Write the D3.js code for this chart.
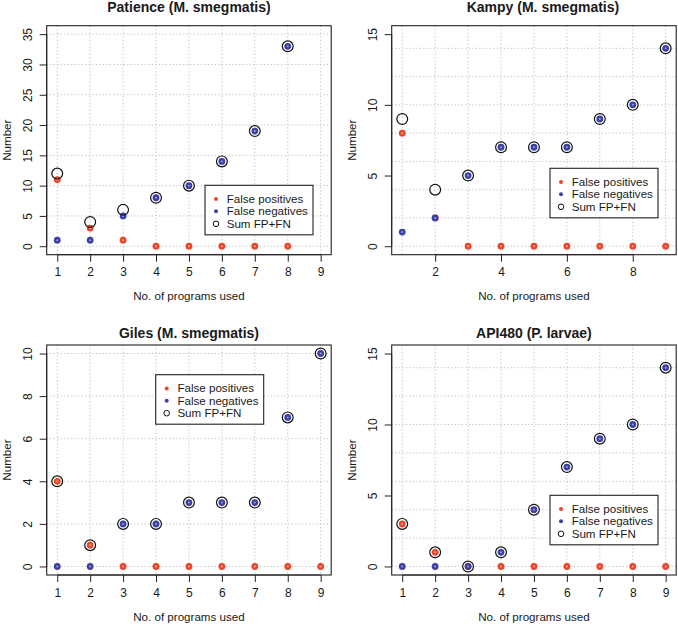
<!DOCTYPE html>
<html>
<head>
<meta charset="utf-8">
<script src="https://cdn.jsdelivr.net/npm/d3@7"></script>
<style>
  html, body { margin: 0; padding: 0; background: #fff; }
  svg { display: block; }
  text { font-family: "Liberation Sans", Arial, sans-serif; fill: #1a1a1a; }
</style>
</head>
<body>
<svg id="chart" width="678" height="627"></svg>
<script>
// ---------------- data ----------------
const programs = [1, 2, 3, 4, 5, 6, 7, 8, 9];

const patienceFP  = [11, 3, 1, 0, 0, 0, 0, 0];
const patienceFN  = [1, 1, 5, 8, 10, 14, 19, 33];
const patienceSum = [12, 4, 6, 8, 10, 14, 19, 33];

const kampyFP  = [8, 2, 0, 0, 0, 0, 0, 0, 0];
const kampyFN  = [1, 2, 5, 7, 7, 7, 9, 10, 14];
const kampySum = [9, 4, 5, 7, 7, 7, 9, 10, 14];

const gilesFP  = [4, 1, 0, 0, 0, 0, 0, 0, 0];
const gilesFN  = [0, 0, 2, 2, 3, 3, 3, 7, 10];
const gilesSum = [4, 1, 2, 2, 3, 3, 3, 7, 10];

const apiFP  = [3, 1, 0, 0, 0, 0, 0, 0, 0];
const apiFN  = [0, 0, 0, 1, 4, 7, 9, 10, 14];
const apiSum = [3, 1, 0, 1, 4, 7, 9, 10, 14];

const titles = ["Patience (M. smegmatis)", "Kampy (M. smegmatis)", "Giles (M. smegmatis)", "API480 (P. larvae)"];
const legendLabels = ["False positives", "False negatives", "Sum FP+FN"];
const xLabel = "No. of programs used";
const yLabel = "Number";

const xTicksFull = [1, 2, 3, 4, 5, 6, 7, 8, 9];
const xTicksEven = [2, 4, 6, 8];
const yTicksPatience = [0, 5, 10, 15, 20, 25, 30, 35];
const yTicksKampy = [0, 5, 10, 15];
const yTicksGiles = [0, 2, 4, 6, 8, 10];
const yTicksApi = [0, 5, 10, 15];
const yGridPatience = [0, 5, 10, 15, 20, 25, 30, 35];
const yGridKampy = [0, 2, 4, 6, 8, 10, 12, 14];
const yGridGiles = [0, 2, 4, 6, 8, 10];
const yGridApi = [0, 2, 4, 6, 8, 10, 12, 14];
const yLimPatience = [0, 35];
const yLimKampy = [0, 15];
const yLimGiles = [0, 10];
const yLimApi = [0, 15];
const xLim = [1, 9];

// ---------------- styles / layout ----------------
const RED = "#ee4528";
const BLUE = "#3b40a6";
const W = 284.5;

function ext(lim) { const d = (lim[1] - lim[0]) * 0.04; return [lim[0] - d, lim[1] + d]; }

const panels = [
  { title: titles[0], fp: patienceFP, fn: patienceFN, sum: patienceSum, yLim: yLimPatience,
    yTicks: yTicksPatience, yGrid: yGridPatience, xTicks: xTicksFull,
    left: 46.7, top: 25.7, height: 229, titleY: 7.5, titleDx: 0, legend: [205, 185.3] },
  { title: titles[1], fp: kampyFP, fn: kampyFN, sum: kampySum, yLim: yLimKampy,
    yTicks: yTicksKampy, yGrid: yGridKampy, xTicks: xTicksEven,
    left: 391.7, top: 25.7, height: 229, titleY: 7.5, titleDx: 9, legend: [550, 168.3] },
  { title: titles[2], fp: gilesFP, fn: gilesFN, sum: gilesSum, yLim: yLimGiles,
    yTicks: yTicksGiles, yGrid: yGridGiles, xTicks: xTicksFull,
    left: 46.7, top: 345, height: 230, titleY: 333, titleDx: 0, legend: [155.7, 374.7] },
  { title: titles[3], fp: apiFP, fn: apiFN, sum: apiSum, yLim: yLimApi,
    yTicks: yTicksApi, yGrid: yGridApi, xTicks: xTicksFull,
    left: 391.7, top: 345, height: 230, titleY: 333, titleDx: 0, legend: [550, 495.3] }
];

const svg = d3.select("#chart");
svg.append("rect").attr("width", 678).attr("height", 627).attr("fill", "#fff");

panels.forEach(p => {
  const x = d3.scaleLinear().domain(ext(xLim)).range([p.left, p.left + W]);
  const y = d3.scaleLinear().domain(ext(p.yLim)).range([p.top + p.height, p.top]);
  const g = svg.append("g");
  const bottom = p.top + p.height;

  // grid
  g.selectAll(".vg").data(programs).enter().append("line")
    .attr("x1", d => x(d)).attr("x2", d => x(d))
    .attr("y1", p.top).attr("y2", bottom)
    .attr("stroke", "#c4c4c4").attr("stroke-width", 1).attr("stroke-dasharray", "1.3,2.2");
  g.selectAll(".hg").data(p.yGrid).enter().append("line")
    .attr("x1", p.left).attr("x2", p.left + W)
    .attr("y1", d => y(d)).attr("y2", d => y(d))
    .attr("stroke", "#c4c4c4").attr("stroke-width", 1).attr("stroke-dasharray", "1.3,2.2");

  const idx = d3.range(p.fp.length);
  // false positives
  g.selectAll(".fp").data(idx).enter().append("circle")
    .attr("cx", i => x(programs[i])).attr("cy", i => y(p.fp[i])).attr("r", 3.4).attr("fill", RED);
  g.selectAll(".fpc").data(idx).enter().append("circle")
    .attr("cx", i => x(programs[i])).attr("cy", i => y(p.fp[i])).attr("r", 1).attr("fill", "#f7a898");
  // false negatives
  g.selectAll(".fn").data(idx).enter().append("circle")
    .attr("cx", i => x(programs[i])).attr("cy", i => y(p.fn[i])).attr("r", 3.4).attr("fill", BLUE);
  g.selectAll(".fnc").data(idx).enter().append("circle")
    .attr("cx", i => x(programs[i])).attr("cy", i => y(p.fn[i])).attr("r", 1).attr("fill", "#9da0d6");
  // sum
  g.selectAll(".sm").data(idx).enter().append("circle")
    .attr("cx", i => x(programs[i])).attr("cy", i => y(p.sum[i])).attr("r", 5.4)
    .attr("fill", "none").attr("stroke", "#111").attr("stroke-width", 1.2);

  // box
  g.append("rect").attr("x", p.left).attr("y", p.top).attr("width", W).attr("height", p.height)
    .attr("fill", "none").attr("stroke", "#222").attr("stroke-width", 1.1);

  // x axis
  const xa = g.append("g").attr("transform", `translate(0,${bottom})`)
    .call(d3.axisBottom(x).tickValues(p.xTicks).tickSize(7).tickSizeOuter(0).tickPadding(6).tickFormat(d3.format("d")));
  xa.select(".domain").attr("d", `M${x(p.xTicks[0])},0H${x(p.xTicks[p.xTicks.length - 1])}`).attr("stroke", "#222");
  xa.selectAll(".tick line").attr("stroke", "#222");
  xa.selectAll(".tick text").attr("font-size", 12).attr("fill", "#1a1a1a")
    .attr("font-family", '"Liberation Sans", Arial, sans-serif');

  // y axis
  const ya = g.append("g").attr("transform", `translate(${p.left},0)`)
    .call(d3.axisLeft(y).tickValues(p.yTicks).tickSize(7).tickSizeOuter(0).tickFormat(d3.format("d")));
  ya.select(".domain").attr("d", `M0,${y(p.yTicks[0])}V${y(p.yTicks[p.yTicks.length - 1])}`).attr("stroke", "#222");
  ya.selectAll(".tick line").attr("stroke", "#222");
  ya.selectAll(".tick text").remove();
  ya.selectAll(".tick").append("text")
    .attr("transform", "translate(-18.5,0) rotate(-90)")
    .attr("text-anchor", "middle").attr("dy", "0.35em")
    .attr("font-size", 12).attr("fill", "#1a1a1a")
    .attr("font-family", '"Liberation Sans", Arial, sans-serif')
    .text(d => d);

  // labels
  g.append("text").attr("x", p.left + W / 2).attr("y", bottom + 41.5)
    .attr("text-anchor", "middle").attr("dy", "0.35em").attr("font-size", 11.6).text(xLabel);
  g.append("text").attr("transform", `translate(${p.left - 40},${p.top + p.height / 2}) rotate(-90)`)
    .attr("text-anchor", "middle").attr("dy", "0.35em").attr("font-size", 11.6).text(yLabel);
  g.append("text").attr("x", p.left + W / 2 + p.titleDx).attr("y", p.titleY)
    .attr("text-anchor", "middle").attr("dy", "0.35em").attr("font-size", 14).attr("font-weight", "bold")
    .text(p.title);

  // legend
  const [lx, ly] = p.legend;
  const lg = g.append("g").attr("transform", `translate(${lx},${ly})`);
  lg.append("rect").attr("width", 108).attr("height", 49.5)
    .attr("fill", "#fff").attr("stroke", "#222").attr("stroke-width", 1.1);
  const rows = [13.7, 26, 38.5];
  lg.append("circle").attr("cx", 11).attr("cy", rows[0]).attr("r", 2).attr("fill", RED);
  lg.append("circle").attr("cx", 11).attr("cy", rows[1]).attr("r", 2).attr("fill", BLUE);
  lg.append("circle").attr("cx", 11).attr("cy", rows[2]).attr("r", 2.8)
    .attr("fill", "none").attr("stroke", "#111").attr("stroke-width", 1);
  lg.selectAll(".lt").data(legendLabels).enter().append("text")
    .attr("x", 21.7).attr("y", (d, i) => rows[i]).attr("dy", "0.35em")
    .attr("font-size", 11.6).text(d => d);
});
</script>
</body>
</html>
